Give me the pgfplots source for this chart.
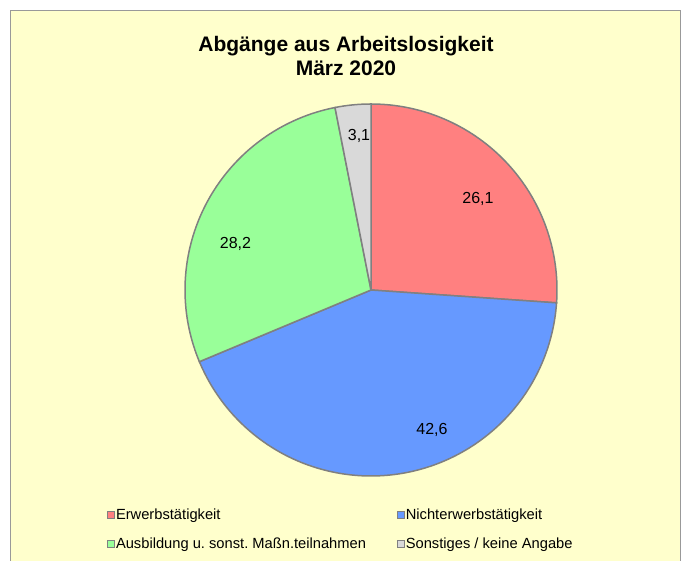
\documentclass[border=0pt]{standalone}
\usepackage{pgfplots}
\usepackage{pgfplotstable}
\pgfplotsset{compat=1.18}
\usepackage{fontspec}
\setmainfont{Liberation Sans}
\definecolor{bgY}{HTML}{FFFFCC}
\definecolor{cRed}{HTML}{FF8080}
\definecolor{cBlue}{HTML}{6699FF}
\definecolor{cGreen}{HTML}{99FF99}
\definecolor{cGray}{HTML}{D9D9D9}
\definecolor{edge}{HTML}{808080}
\pgfplotstableread[col sep=comma]{
idx,value
1,26.1
2,42.6
3,28.2
4,3.1
}\piedata
\pgfplotstablegetelem{0}{value}\of\piedata \let\vA\pgfplotsretval
\pgfplotstablegetelem{1}{value}\of\piedata \let\vB\pgfplotsretval
\pgfplotstablegetelem{2}{value}\of\piedata \let\vC\pgfplotsretval
\pgfplotstablegetelem{3}{value}\of\piedata \let\vD\pgfplotsretval
\pgfmathsetmacro{\tot}{\vA+\vB+\vC+\vD}
\pgfmathsetmacro{\aZ}{90}
\pgfmathsetmacro{\aA}{\aZ-360*\vA/\tot}
\pgfmathsetmacro{\aB}{\aA-360*\vB/\tot}
\pgfmathsetmacro{\aC}{\aB-360*\vC/\tot}
\pgfmathsetmacro{\aD}{\aC-360*\vD/\tot}
\frenchspacing
\begin{document}%
\begin{tikzpicture}
\begin{axis}[
  scale only axis, width=687pt, height=561pt,
  xmin=0, xmax=687, ymin=0, ymax=561,
  hide axis,
  legend columns=2,
  legend cell align=left,
  legend style={at={(axis cs:104,55)}, anchor=north west, draw=none, fill=none,
    font=\fontsize{14.7}{17}\selectfont, column sep=0pt, row sep=14pt,
    nodes={inner sep=1pt},
    /tikz/every even column/.append style={column sep=30pt}},
  legend image code/.code={\draw[#1,draw=edge,line width=0.8pt] (0pt,-3.5pt) rectangle (7pt,3.5pt);},
]
\path (axis cs:0,0) rectangle (axis cs:687,561);
\fill[bgY] (axis cs:10.5,0) rectangle (axis cs:680.5,550.5);
\draw[draw=gray!80, line width=1.5pt] (axis cs:10.5,0) -- (axis cs:10.5,550.5) -- (axis cs:680.5,550.5) -- (axis cs:680.5,0);
\addplot[fill=cRed, draw=edge, line width=1.5pt, domain=\aA:\aZ, samples=80] ({371+186*cos(x)},{271+186*sin(x)}) -- (axis cs:371,271) -- cycle;
\addlegendentry{Erwerbstätigkeit}
\addplot[fill=cBlue, draw=edge, line width=1.5pt, domain=\aB:\aA, samples=120] ({371+186*cos(x)},{271+186*sin(x)}) -- (axis cs:371,271) -- cycle;
\addlegendentry{Nichterwerbstätigkeit}
\addplot[fill=cGreen, draw=edge, line width=1.5pt, domain=\aC:\aB, samples=80] ({371+186*cos(x)},{271+186*sin(x)}) -- (axis cs:371,271) -- cycle;
\addlegendentry{Ausbildung u. sonst. Maßn.teilnahmen}
\addplot[fill=cGray, draw=edge, line width=1.5pt, domain=\aD:\aC, samples=20] ({371+186*cos(x)},{271+186*sin(x)}) -- (axis cs:371,271) -- cycle;
\addlegendentry{Sonstiges / keine Angabe}
\node[font=\fontsize{16}{18}\selectfont] at (axis cs:478,362) {26,1};
\node[font=\fontsize{16}{18}\selectfont] at (axis cs:432,131) {42,6};
\node[font=\fontsize{16}{18}\selectfont] at (axis cs:235.5,317) {28,2};
\node[font=\fontsize{16}{18}\selectfont] at (axis cs:359,425) {3,1};
\node[font=\fontsize{21}{24}\selectfont\bfseries, align=center] at (axis cs:346,505) {Abgänge aus Arbeitslosigkeit\\März 2020};
\end{axis}
\end{tikzpicture}%
\end{document}
